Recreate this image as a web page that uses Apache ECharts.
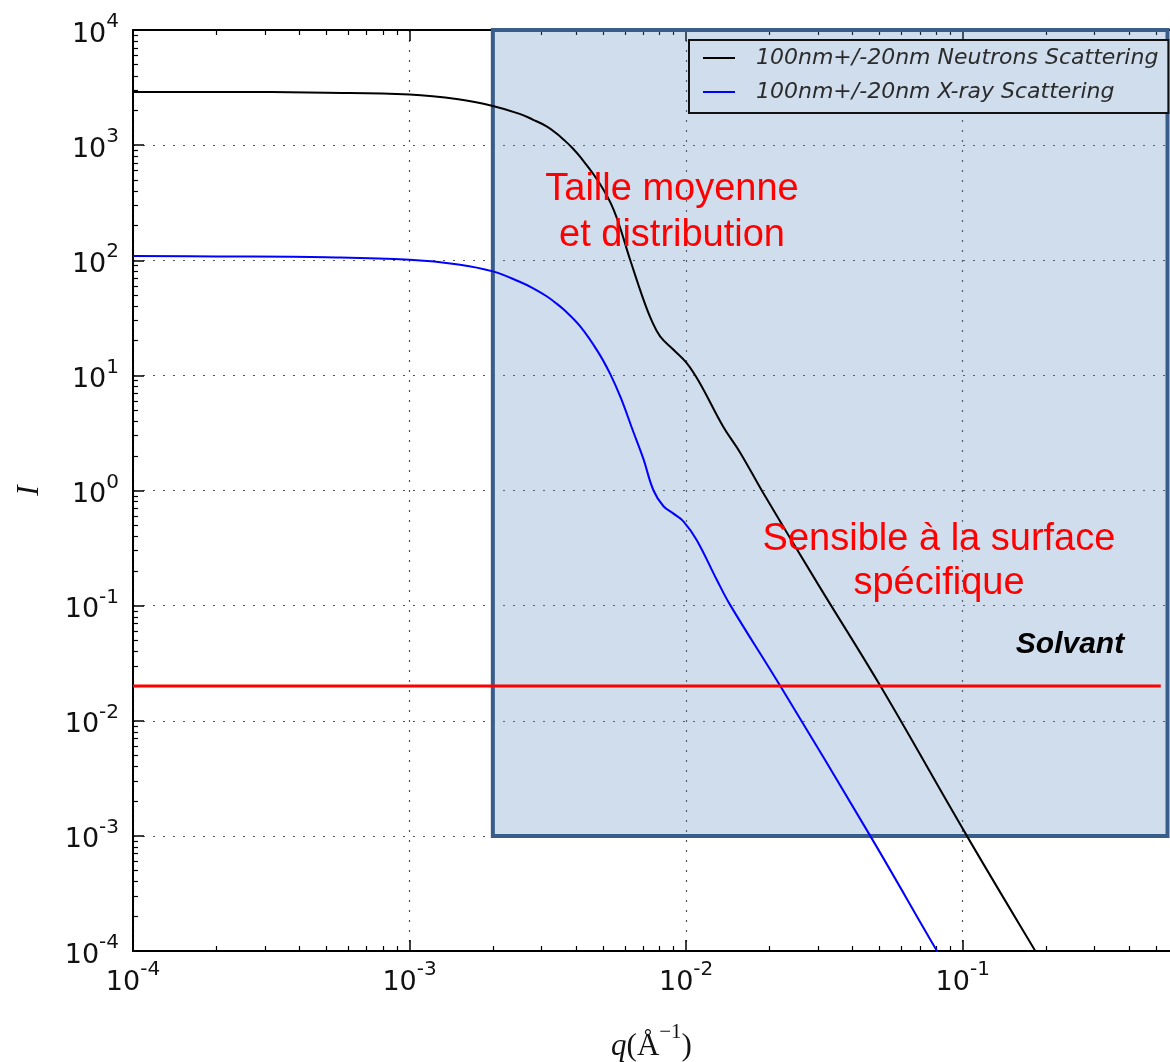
<!DOCTYPE html>
<html>
<head>
<meta charset="utf-8">
<script src="https://cdn.jsdelivr.net/npm/echarts@6/dist/echarts.min.js"></script>
<style>
html, body { margin: 0; padding: 0; background: #fff; }
#chart { width: 1170px; height: 1062px; }
</style>
</head>
<body>
<div id="chart"></div>
<script>
// values (q in 1/Angstrom, I in a.u.)
var qNeutrons = [1e-4, 2e-4, 5e-4, 1e-3, 1.5e-3, 2e-3, 2.5e-3, 2.8e-3, 3.14e-3, 3.4e-3, 3.6e-3, 3.87e-3, 4.14e-3, 4.8e-3, 5.47e-3, 6.28e-3, 7.02e-3, 7.5e-3, 8.05e-3, 9.0e-3, 1.005e-2, 1.12e-2, 1.36e-2, 1.57e-2, 1.9e-2, 3.0e-2, 5.04e-2, 0.1035, 0.183, 0.25];
var iNeutrons = [2900, 2900, 2850, 2750, 2500, 2190, 1870, 1660, 1450, 1260, 1120, 950, 790, 489, 274, 100, 45, 30, 21.8, 16.7, 12.8, 8.6, 3.6, 2.12, 0.95, 0.153, 0.02, 1e-3, 1e-4, 2.9e-5];

var qXray = [1e-4, 2e-4, 5e-4, 1e-3, 1.5e-3, 2e-3, 2.5e-3, 2.8e-3, 3.14e-3, 3.4e-3, 3.6e-3, 4.14e-3, 4.8e-3, 5.3e-3, 5.8e-3, 6.4e-3, 7.0e-3, 7.62e-3, 8.28e-3, 9.0e-3, 9.77e-3, 1.09e-2, 1.29e-2, 1.44e-2, 2.19e-2, 4.63e-2, 8.07e-2, 0.1];
var iXray = [109, 108, 106, 101, 92, 80, 65, 57, 48.4, 42, 37.5, 26.6, 16, 10.4, 6.4, 3.37, 1.89, 1.0, 0.73, 0.63, 0.54, 0.374, 0.168, 0.102, 0.02, 1e-3, 1e-4, 4.2e-5];

// solvent level and the shaded zone
var qSolvent = [1e-4, 0.52];
var iSolvent = [0.02, 0.02];
var zoneFrom = [2e-3, 1e4];
var zoneTo = [0.55, 1e-3];

var seriesNames = ['100nm+/-20nm Neutrons Scattering', '100nm+/-20nm X-ray Scattering'];

var xMin = 1e-4, xMax = 0.5615;
var yMin = 1e-4, yMax = 1e4;
var xMajor = [1e-4, 1e-3, 1e-2, 1e-1];
var yMajor = [1e-4, 1e-3, 1e-2, 1e-1, 1, 1e1, 1e2, 1e3, 1e4];

function minors (major, limit) {
    var out = [];
    major.forEach(function (m) {
        for (var k = 2; k <= 9; k++) {
            if (m * k < limit) out.push(m * k);
        }
    });
    return out;
}
var xMinor = minors(xMajor, xMax);
var yMinor = minors(yMajor, yMax);

function zip (a, b) {
    return a.map(function (v, i) { return [v, b[i]]; });
}

var powRich = {
    b: { fontFamily: 'DejaVu Sans', fontSize: 27, color: '#111', verticalAlign: 'bottom', lineHeight: 36 },
    s: { fontFamily: 'DejaVu Sans', fontSize: 20, color: '#111', verticalAlign: 'top', lineHeight: 20 }
};
function powLabel (v) {
    var e = Math.round(Math.log10(v));
    return '{b|10}{s|' + e + '}';
}

var gridLine = { show: true, lineStyle: { color: '#555', width: 1.2, type: [2, 8] } };

function axisPair (dim, min, max, major, minor, pos, withLabels) {
    var base = { type: 'log', logBase: 10, min: min, max: max, position: pos, gridIndex: 0 };
    var main = Object.assign({}, base, {
        axisLine: { show: true, onZero: false, lineStyle: { color: '#000', width: 2 } },
        axisTick: { show: true, inside: true, length: 11, customValues: major, lineStyle: { color: '#000', width: 1.5 } },
        axisLabel: withLabels ? {
            show: true, customValues: major, margin: dim === 'x' ? 9 : 14,
            formatter: powLabel, rich: powRich
        } : { show: false },
        splitLine: withLabels ? gridLine : { show: false }
    });
    var small = Object.assign({}, base, {
        axisLine: { show: false },
        axisTick: { show: true, inside: true, length: 5, customValues: minor, lineStyle: { color: '#000', width: 1.2 } },
        axisLabel: { show: false },
        splitLine: { show: false }
    });
    return [main, small];
}

var xAxes = axisPair('x', xMin, xMax, xMajor, xMinor, 'bottom', true)
    .concat(axisPair('x', xMin, xMax, xMajor, xMinor, 'top', false));
var yAxes = axisPair('y', yMin, yMax, yMajor, yMinor, 'left', true);

xAxes[0].name = '{q|q}{p|(Å}{s|−1}{p|)}';
xAxes[0].nameLocation = 'middle';
xAxes[0].nameGap = 71;
xAxes[0].nameTextStyle = {
    rich: {
        q: { fontFamily: 'Liberation Serif', fontStyle: 'italic', fontSize: 31, color: '#111', verticalAlign: 'bottom', lineHeight: 40 },
        p: { fontFamily: 'Liberation Serif', fontSize: 31, color: '#111', verticalAlign: 'bottom', lineHeight: 40 },
        s: { fontFamily: 'Liberation Serif', fontSize: 21, color: '#111', verticalAlign: 'top', lineHeight: 21 }
    }
};
yAxes[0].name = 'I';
yAxes[0].nameLocation = 'middle';
yAxes[0].nameGap = 88;
yAxes[0].nameTextStyle = { fontFamily: 'Liberation Serif', fontStyle: 'italic', fontSize: 31, color: '#111' };

var myChart = echarts.init(document.getElementById('chart'));

var option = {
    animation: false,
    backgroundColor: '#fff',
    grid: { left: 133, right: 0, top: 30, bottom: 111, containLabel: false, outerBoundsMode: 'none' },
    legend: {
        data: seriesNames,
        orient: 'vertical',
        left: 689,
        top: 40,
        icon: 'rect',
        itemWidth: 32,
        itemHeight: 2,
        itemGap: 12,
        padding: [7, 10, 10, 14],
        backgroundColor: '#cfdded',
        borderColor: '#111',
        borderWidth: 2,
        formatter: function (name) { return '{t|' + name + '}'; },
        textStyle: {
            rich: {
                t: { fontFamily: 'DejaVu Sans', fontStyle: 'italic', fontSize: 22, color: '#2b2b2b', padding: [0, 0, 0, 16] }
            }
        }
    },
    xAxis: xAxes,
    yAxis: yAxes,
    series: [
        {
            name: seriesNames[0],
            type: 'line',
            data: zip(qNeutrons, iNeutrons),
            showSymbol: false,
            smooth: 0.4,
            color: '#000',
            lineStyle: { color: '#000', width: 2 },
            z: 3,
            markArea: {
                silent: true,
                z: 1,
                itemStyle: { color: 'rgba(79,129,189,0.27)', borderColor: '#385d8a', borderWidth: 4 },
                label: { show: false },
                data: [[{ coord: zoneFrom }, { coord: zoneTo }]]
            }
        },
        {
            name: seriesNames[1],
            type: 'line',
            data: zip(qXray, iXray),
            showSymbol: false,
            smooth: 0.4,
            color: '#0000ff',
            lineStyle: { color: '#0000ff', width: 2 },
            z: 3
        },
        {
            name: 'Solvant',
            type: 'line',
            data: zip(qSolvent, iSolvent),
            showSymbol: false,
            color: '#ff0000',
            lineStyle: { color: '#ff0000', width: 3 },
            z: 4
        }
    ],
    graphic: [
        {
            type: 'text', x: 672, y: 213, z: 10,
            style: { text: 'Taille moyenne\net distribution', fill: '#ff0000', fontFamily: 'Liberation Sans', fontSize: 38, lineHeight: 46, textAlign: 'center', textVerticalAlign: 'middle' }
        },
        {
            type: 'text', x: 939, y: 562, z: 10,
            style: { text: 'Sensible à la surface\nspécifique', fill: '#ff0000', fontFamily: 'Liberation Sans', fontSize: 38, lineHeight: 44, textAlign: 'center', textVerticalAlign: 'middle' }
        },
        {
            type: 'text', x: 1070, y: 645, z: 10,
            style: { text: 'Solvant', fill: '#000', fontFamily: 'Liberation Sans', fontWeight: 'bold', fontStyle: 'italic', fontSize: 30, textAlign: 'center', textVerticalAlign: 'middle' }
        }
    ]
};

myChart.setOption(option);
</script>
</body>
</html>
